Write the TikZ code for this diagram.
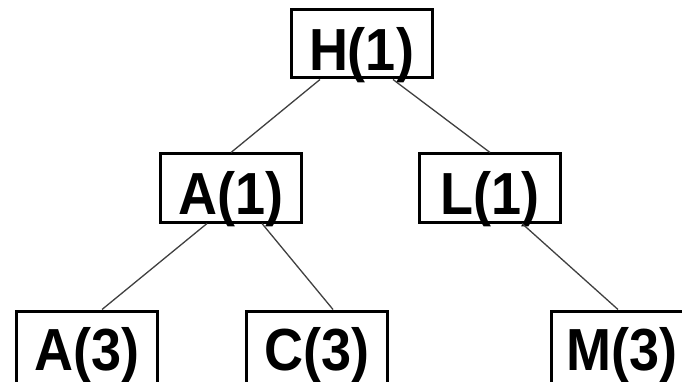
\documentclass[tikz,border=0pt]{standalone}
\usepackage{fontspec}
\setmainfont{Liberation Sans}
\newcommand{\tallfont}[1]{\scalebox{1}[1.1]{#1}}
\begin{document}
\begin{tikzpicture}[x=1pt,y=-1pt,
  box/.style={draw=black,line width=3pt,minimum width=141pt,minimum height=68pt,inner sep=0pt,
    text height=60pt,text depth=6.5pt,
    font=\fontsize{54}{60}\selectfont\bfseries},
  lowbox/.style={box,minimum height=80pt,text height=45pt,text depth=7pt},
  edge/.style={draw=black!75,line width=1.3pt}]
\useasboundingbox[fill=white] (0,0) rectangle (682,382);
\node[box] (H) at (361.5,44) {\tallfont{H(1)}};
\node[box] (A1) at (231,188) {\tallfont{A(1)}};
\node[box] (L1) at (490,188) {\tallfont{L(1)}};
\node[lowbox] (A3) at (87,351) {\tallfont{A(3)}};
\node[lowbox] (C3) at (317,351) {\tallfont{C(3)}};
\node[lowbox] (M3) at (622,351) {\tallfont{M(3)}};
\draw[edge] ([xshift=-41.5pt]H.south) -- (A1.north);
\draw[edge] ([xshift=31.5pt]H.south) -- (L1.north);
\draw[edge] ([xshift=-24pt]A1.south) -- ([xshift=15pt]A3.north);
\draw[edge] ([xshift=31pt]A1.south) -- ([xshift=16pt]C3.north);
\draw[edge] ([xshift=32pt]L1.south) -- ([xshift=-4pt]M3.north);
\end{tikzpicture}
\end{document}
